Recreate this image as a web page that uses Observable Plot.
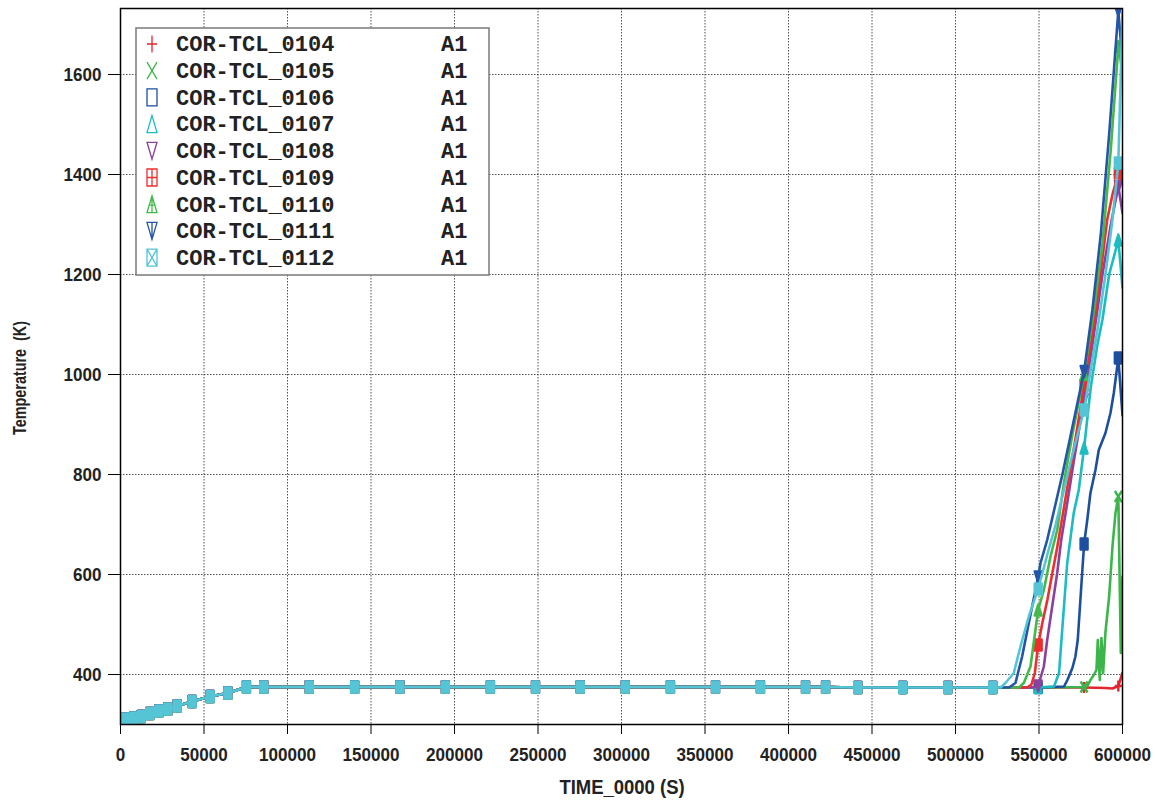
<!DOCTYPE html>
<html><head><meta charset="utf-8">
<script src="https://cdn.jsdelivr.net/npm/d3@7"></script>
<script src="https://cdn.jsdelivr.net/npm/@observablehq/plot@0.6"></script>
<style>body{margin:0;background:#fff;} #chart{width:1155px;height:801px;}</style>
</head><body><div id="chart"></div>
<script>
// ---------- data ----------
const xTicks = [0,50000,100000,150000,200000,250000,300000,350000,400000,450000,500000,550000,600000];
const yTicks = [400,600,800,1000,1200,1400,1600];

const seriesNames = ["COR-TCL_0104","COR-TCL_0105","COR-TCL_0106","COR-TCL_0107","COR-TCL_0108","COR-TCL_0109","COR-TCL_0110","COR-TCL_0111","COR-TCL_0112"];
const seriesTags = ["A1","A1","A1","A1","A1","A1","A1","A1","A1"];
const seriesColors = ["#e2262d","#3db54a","#1d4f9f","#1cbcc0","#8c429c","#ee2e2e","#45b84a","#2455a6","#55c5d6"];
const seriesShapes = ["plus","times","rect","tri","tridown","rectplus","triline","tridownline","rectx"];
const xTitle = "TIME_0000 (S)";
const yTitle = "Temperature  (K)";

// shared early history (same for all thermocouples)
const baseTimes = [0,2500,5000,8000,12400,17500,22900,28300,33900,42900,53700,64300,75400,85800,113000,140200,167300,194500,221500,248500,275300,302200,329300,356300,383200,410200,422200,441500,468400,495400,522300];
const baseTemps = [308,310,311,313,316,322,327,331,337,346,356,363,375,375,375,375,375,375,375,375,375,375,375,375,375,375,375,374,374,374,374];

// time stamps that carry a marker after the shared part
const tailMarkerTimes = [549500,577000,597500];

const tail0104 = [[549500,374],[577000,374],[590000,373],[594000,372],[597500,377],[600000,403]];
const tail0105 = [[549500,374],[577000,375],[579000,377],[580800,389],[582800,399],[584400,409],[585200,469],[586400,389],[587400,473],[588400,403],[589800,485],[592000,556],[594000,656],[595800,723],[597500,756],[599000,443],[600000,596]];
const tail0106 = [[549500,374],[565000,376],[567000,389],[570000,413],[571800,436],[573200,469],[577000,661],[578900,709],[580800,763],[583800,809],[585800,849],[589800,883],[592800,923],[594800,963],[597500,1033],[600000,918]];
const tail0107 = [[549500,374],[559000,376],[562000,403],[563900,489],[566900,623],[570800,723],[573800,769],[577000,853],[581000,975],[585000,1060],[588000,1110],[592000,1200],[597500,1269],[600000,1173]];
const tail0108 = [[546000,374],[549500,377],[552900,416],[554900,469],[557900,536],[560900,603],[563300,669],[567000,745],[571000,830],[577000,950],[582000,1060],[588000,1200],[593000,1300],[597500,1376],[600000,1323]];
const tail0109 = [[543000,374],[545500,380],[547500,403],[549500,459],[552000,503],[555000,549],[558000,603],[561000,656],[565000,735],[569000,815],[573000,895],[577000,979],[582000,1080],[586800,1200],[590800,1309],[594000,1360],[597500,1403],[600000,1386]];
const tail0110 = [[538000,374],[540900,383],[544900,416],[549500,529],[552900,569],[556900,636],[560900,689],[565000,785],[570000,880],[577000,1000],[583000,1130],[588000,1260],[593000,1450],[597500,1656],[600000,1606]];
const tail0111 = [[532000,374],[535900,383],[539900,436],[543900,503],[547900,569],[549500,595],[550900,623],[554900,669],[564000,800],[577000,1006],[582000,1130],[587000,1280],[592000,1480],[597500,1728],[600000,1623]];
const tail0112 = [[527000,374],[529900,383],[534900,403],[538900,456],[543900,516],[549500,571],[555000,640],[560000,700],[565000,770],[570000,840],[577000,929],[580000,990],[585000,1090],[589800,1200],[594000,1310],[597500,1423],[600000,1725]];
const tails = [tail0104,tail0105,tail0106,tail0107,tail0108,tail0109,tail0110,tail0111,tail0112];

// ---------- symbols ----------
function shape(kind, w, h) {
  const a = w/2, b = h/2;
  return {draw(c) {
    const rect = () => { c.moveTo(-a,-b); c.lineTo(a,-b); c.lineTo(a,b); c.lineTo(-a,b); c.closePath(); };
    const up = () => { c.moveTo(0,-b); c.lineTo(a,b); c.lineTo(-a,b); c.closePath(); };
    const down = () => { c.moveTo(-a,-b); c.lineTo(a,-b); c.lineTo(0,b); c.closePath(); };
    switch (kind) {
      case "plus": c.moveTo(0,-b); c.lineTo(0,b); c.moveTo(-a,0); c.lineTo(a,0); break;
      case "times": c.moveTo(-a,-b); c.lineTo(a,b); c.moveTo(a,-b); c.lineTo(-a,b); break;
      case "rect": rect(); break;
      case "tri": up(); break;
      case "tridown": down(); break;
      case "rectplus": rect(); c.moveTo(0,-b); c.lineTo(0,b); c.moveTo(-a,0); c.lineTo(a,0); break;
      case "triline": up(); c.moveTo(0,-b); c.lineTo(0,b); c.moveTo(-a*0.55,b*0.1); c.lineTo(a*0.55,b*0.1); break;
      case "tridownline": down(); c.moveTo(0,-b); c.lineTo(0,b); break;
      case "rectx": rect(); c.moveTo(-a,-b); c.lineTo(a,b); c.moveTo(a,-b); c.lineTo(-a,b); break;
    }
  }};
}
const closedShape = k => !(k === "plus" || k === "times");

// ---------- build ----------
const marks = [
  Plot.gridX(xTicks, {stroke:"#333", strokeOpacity:0.85, strokeDasharray:"1.5,1.5"}),
  Plot.gridY(yTicks, {stroke:"#333", strokeOpacity:0.85, strokeDasharray:"1.5,1.5"}),
  Plot.axisX(xTicks, {tickSize:10, tickPadding:13, tickFormat:d => String(d), label:null, fill:"#222"}),
  Plot.axisY(yTicks, {tickSize:12, tickPadding:7, tickFormat:d => String(d), label:null, fill:"#222"})
];
const markerSet = new Set([...baseTimes, ...tailMarkerTimes]);
seriesNames.forEach((name, i) => {
  const pts = baseTimes.map((t, j) => ({t, T: baseTemps[j]}))
    .concat(tails[i].map(([t, T]) => ({t, T})));
  const mk = pts.filter(p => markerSet.has(p.t));
  marks.push(Plot.line(pts, {x:"t", y:"T", stroke:seriesColors[i], strokeWidth:2.6, clip:true}));
  marks.push(Plot.dot(mk, {x:"t", y:"T", r:5, symbol:shape(seriesShapes[i], 7, 11),
    stroke:seriesColors[i], fill: closedShape(seriesShapes[i]) ? seriesColors[i] : "none",
    strokeWidth:2.4, strokeLinejoin:"round", clip:true}));
});
marks.push(Plot.frame({stroke:"#000", strokeWidth:1.5}));

const chart = Plot.plot({
  width:1155, height:801,
  marginLeft:120, marginRight:33, marginTop:8, marginBottom:77,
  style:{fontFamily:"'Liberation Sans', Arial, sans-serif", fontSize:"19px", fontWeight:"bold", background:"#fff"},
  x:{domain:[0,600000]},
  y:{domain:[300,1732]},
  marks
});
document.getElementById("chart").appendChild(chart);

// condensed, larger look for the numeric tick labels
const svg = d3.select(chart);
svg.selectAll("text").filter(function() { return /^\d+$/.test(this.textContent.trim()); })
  .each(function() {
    const s = this.textContent.trim();
    this.setAttribute("font-size", "19");
    this.style.fontSize = "19px";
    this.style.fontWeight = "bold";
    this.setAttribute("textLength", (s.length * 9.5).toFixed(1));
    this.setAttribute("lengthAdjust", "spacingAndGlyphs");
  });

// axis titles (condensed via horizontal scale)
svg.append("text").text(xTitle)
  .attr("transform", "translate(622,794) scale(0.88,1)")
  .attr("text-anchor","middle").attr("font-size",21).attr("font-weight","bold")
  .attr("font-family","'Liberation Sans', Arial, sans-serif").attr("fill","#222");
svg.append("text").text(yTitle)
  .attr("transform", "translate(26,378) rotate(-90) scale(0.8,1)")
  .attr("text-anchor","middle").attr("font-size",18).attr("font-weight","bold")
  .attr("font-family","'Liberation Sans', Arial, sans-serif").attr("fill","#222");

// ---------- legend ----------
const lg = svg.append("g").attr("transform", "translate(136,28)").attr("text-anchor","start");
lg.append("rect").attr("x",0).attr("y",0).attr("width",353).attr("height",247)
  .attr("fill","#fff").attr("stroke","#7a7a7a").attr("stroke-width",1.5);
seriesNames.forEach((name, i) => {
  const cy = 16 + i * 26.7;
  const p = d3.path();
  shape(seriesShapes[i], 10, 17).draw(p);
  lg.append("path").attr("d", p.toString()).attr("transform", `translate(16,${cy})`)
    .attr("fill","none").attr("stroke", seriesColors[i]).attr("stroke-width",1.3);
  lg.append("text").attr("x",40).attr("y",cy+7.3).text(name).attr("text-anchor","start")
    .attr("font-family","'Liberation Mono', 'Courier New', monospace").attr("font-size",22)
    .attr("font-weight","bold").attr("fill","#222");
  lg.append("text").attr("x",305).attr("y",cy+7.3).text(seriesTags[i]).attr("text-anchor","start")
    .attr("font-family","'Liberation Mono', 'Courier New', monospace").attr("font-size",22)
    .attr("font-weight","bold").attr("fill","#222");
});
</script></body></html>
